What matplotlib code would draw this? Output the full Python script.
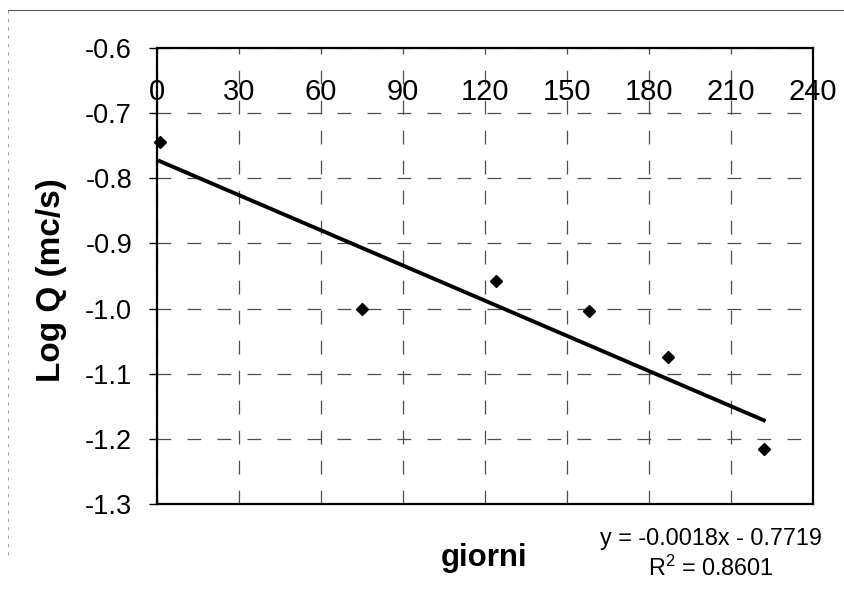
import matplotlib
matplotlib.use("Agg")
import matplotlib.pyplot as plt
from matplotlib.lines import Line2D
import numpy as np

# days since start and log of discharge
giorni = [1, 75, 124, 158, 187, 222]
log_q = [-0.745, -1.000, -0.958, -1.003, -1.074, -1.215]

# linear trend as reported on the chart
slope = -0.0018
intercept = -0.7719
r2 = 0.8601

x_ticks = [0, 30, 60, 90, 120, 150, 180, 210, 240]
y_ticks = [-1.3, -1.2, -1.1, -1.0, -0.9, -0.8, -0.7, -0.6]

plt.rcParams['font.family'] = ['Liberation Sans', 'DejaVu Sans']

fig = plt.figure(figsize=(8.45, 5.96), dpi=100)
ax = fig.add_axes([0.1858, 0.1544, 0.9621 - 0.1858, 0.9195 - 0.1544])

ax.set_xlim(0, 240)
ax.set_ylim(-1.3, -0.6)
ax.set_xticks(x_ticks)
ax.set_yticks(y_ticks)
ax.set_yticklabels([f"{v:.1f}" for v in y_ticks])

# x axis sits on the top edge, labels hang just inside the plot
ax.xaxis.tick_top()
ax.tick_params(axis='x', direction='in', length=0, pad=-41.5, labelsize=21)
ax.tick_params(axis='y', direction='out', length=6, width=1, pad=12, labelsize=19.5)

ax.grid(True, color='0.3', linewidth=0.9, linestyle=(0, (11, 13)))
ax.set_axisbelow(True)
for s in ax.spines.values():
    s.set_linewidth(1.6)
    s.set_color('black')

# trend line across the data range
xs = np.array([min(giorni), max(giorni)])
ax.plot(xs, slope * xs + intercept, color='black', linewidth=2.8, zorder=3)
ax.plot(giorni, log_q, linestyle='none', marker='D', markersize=6.2,
        color='black', zorder=4, clip_on=False)

fig.text(0.0604, 0.530, 'Log Q (mc/s)', rotation=90, ha='center', va='center',
         fontsize=24, fontweight='bold')
fig.text(484 / 845, 1 - 558 / 596, 'giorni', ha='center', va='center',
         fontsize=22.5, fontweight='bold')
fig.text(711 / 845, 1 - 539 / 596, f'y = {slope:.4f}x - {abs(intercept):.4f}',
         ha='center', va='center', fontsize=16.8)
fig.text(711 / 845, 1 - 568 / 596, f'$\\mathregular{{R^2}}$ = {r2:.4f}',
         ha='center', va='center', fontsize=16.8)

# chart area border
fig.add_artist(Line2D([8 / 845, 1.0], [1 - 9.5 / 596, 1 - 9.5 / 596],
                      transform=fig.transFigure, color='0.35', linewidth=0.8))
fig.add_artist(Line2D([8 / 845, 8 / 845], [1 - 9.5 / 596, 1 - 555 / 596],
                      transform=fig.transFigure, color='0.55', linewidth=0.6,
                      linestyle=(0, (4, 6))))

fig.savefig('out.png', dpi=100)
